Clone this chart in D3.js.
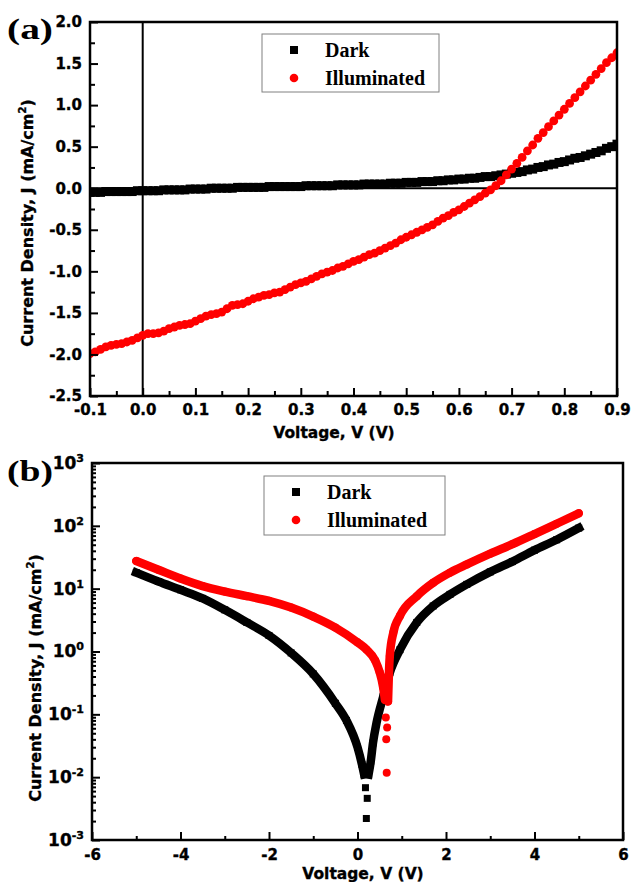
<!DOCTYPE html>
<html>
<head>
<meta charset="utf-8">
<script src="https://cdn.jsdelivr.net/npm/d3@7"></script>
<style>
  body { margin: 0; background: #fff; }
  svg { display: block; }
</style>
</head>
<body>
<svg id="chart" width="632" height="882"></svg>
<script>
// ---------- data, panel (a): linear J-V, sweep -0.1 .. 0.9 V, 0.01 V step ----------
var voltA = d3.range(101).map(function(i) { return Math.round((-0.1 + i * 0.01) * 100) / 100; });

var darkA = [
  -0.05,-0.05,-0.05,-0.04,-0.04,-0.04,-0.04,-0.04,-0.04,-0.03,
  -0.03,-0.03,-0.03,-0.03,-0.02,-0.02,-0.02,-0.02,-0.02,-0.01,
  -0.01,-0.01,-0.01,0.00,0.00,0.00,0.00,0.00,0.01,0.01,
  0.01,0.01,0.01,0.01,0.02,0.02,0.02,0.02,0.02,0.02,
  0.02,0.03,0.03,0.03,0.03,0.03,0.03,0.04,0.04,0.04,
  0.04,0.04,0.05,0.05,0.05,0.05,0.05,0.06,0.06,0.06,
  0.07,0.07,0.07,0.08,0.08,0.08,0.09,0.09,0.10,0.10,
  0.11,0.11,0.12,0.12,0.13,0.14,0.14,0.15,0.16,0.17,
  0.18,0.19,0.20,0.22,0.23,0.25,0.26,0.28,0.29,0.31,
  0.32,0.34,0.36,0.37,0.39,0.41,0.43,0.45,0.48,0.50,
  0.53
];

var illumA = [
  -1.99,-1.97,-1.94,-1.91,-1.89,-1.88,-1.87,-1.85,-1.83,-1.80,
  -1.77,-1.75,-1.75,-1.74,-1.72,-1.69,-1.67,-1.65,-1.64,-1.63,
  -1.60,-1.57,-1.54,-1.52,-1.51,-1.49,-1.45,-1.41,-1.40,-1.39,
  -1.36,-1.33,-1.31,-1.29,-1.28,-1.26,-1.25,-1.22,-1.19,-1.16,
  -1.14,-1.12,-1.09,-1.06,-1.03,-1.01,-0.99,-0.96,-0.94,-0.91,
  -0.88,-0.86,-0.83,-0.80,-0.78,-0.75,-0.72,-0.69,-0.66,-0.62,
  -0.59,-0.56,-0.53,-0.50,-0.47,-0.44,-0.40,-0.36,-0.33,-0.29,
  -0.26,-0.22,-0.18,-0.14,-0.10,-0.06,-0.02,0.03,0.09,0.16,
  0.23,0.30,0.37,0.45,0.52,0.60,0.67,0.74,0.81,0.88,
  0.95,1.02,1.09,1.16,1.23,1.30,1.37,1.44,1.51,1.57,
  1.63
];

var ticksAX = [-0.1, 0.0, 0.1, 0.2, 0.3, 0.4, 0.5, 0.6, 0.7, 0.8, 0.9];
var minorAX = [-0.05, 0.05, 0.15, 0.25, 0.35, 0.45, 0.55, 0.65, 0.75, 0.85];
var ticksAY = [-2.5, -2.0, -1.5, -1.0, -0.5, 0.0, 0.5, 1.0, 1.5, 2.0];
var minorAY = [-2.25, -1.75, -1.25, -0.75, -0.25, 0.25, 0.75, 1.25, 1.75];

// ---------- data, panel (b): semilog |J|-V ----------
var darkBV = [-5.0,-4.5,-4.0,-3.5,-3.0,-2.5,-2.0,-1.5,-1.0,-0.5,-0.25,0.0,0.1,0.15,0.18,0.2,0.22,0.25,0.3,0.35,0.43,0.58,0.73,0.96,1.34,1.71,2.09,2.47,3.0,3.5,4.0,4.5,5.0];
var darkBJ = [18,13,9.6,7.0,4.6,2.9,1.8,0.95,0.44,0.15,0.08,0.03,0.016,0.011,0.0068,0.0022,0.0046,0.011,0.018,0.035,0.073,0.19,0.46,1.07,2.9,5.3,8.1,11.7,18.5,27,41,60,92];

var illumBV = [-5.0,-4.5,-4.0,-3.5,-3.0,-2.5,-2.0,-1.5,-1.0,-0.5,0.0,0.2,0.4,0.5,0.58,0.62,0.64,0.65,0.66,0.67,0.69,0.71,0.73,0.81,0.96,1.34,1.71,2.09,2.47,3.0,3.5,4.0,4.5,5.0];
var illumBJ = [27.5,20,14.5,11,9.0,7.6,6.4,5.0,3.6,2.4,1.4,1.08,0.72,0.47,0.27,0.17,0.089,0.04,0.0118,0.062,0.16,0.45,0.85,2.0,3.7,7.6,12.4,18,24.3,36,51,74,108,158];

var ticksBX = [-6, -4, -2, 0, 2, 4, 6];
var minorBX = [-5, -3, -1, 1, 3, 5];
var decadesB = [1e-3, 1e-2, 1e-1, 1e0, 1e1, 1e2, 1e3];

var seriesNames = ["Dark", "Illuminated"];

// ---------- drawing ----------
var svg = d3.select("#chart");
var serif = "'Liberation Serif','Times New Roman',serif";
var sans = "'DejaVu Sans',Verdana,sans-serif";
var red = "#ff0000";

var defs = svg.append("defs");

// bold sans text in the source is quite heavy, a thin stroke thickens it
function heavy(sel) {
  return sel.attr("stroke", "#000").attr("stroke-width", 0.35);
}

function styleAxis(g, size) {
  g.attr("font-family", sans).attr("font-size", size).attr("font-weight", "bold");
  g.select(".domain").remove();
  g.selectAll(".tick line").attr("stroke", "#000").attr("stroke-width", 2);
  g.selectAll(".tick text").attr("fill", "#000").call(heavy);
}

function yTitle(x, y) {
  var t = svg.append("text")
    .attr("transform", "translate(" + x + "," + y + ") rotate(-90)")
    .attr("text-anchor", "middle")
    .attr("font-family", sans).attr("font-size", 16).attr("font-weight", "bold")
    .call(heavy);
  t.append("tspan").text("Current Density, J (mA/cm");
  t.append("tspan").attr("dy", -7).attr("font-size", 10).text("2");
  t.append("tspan").attr("dy", 7).text(")");
}

function xTitle(x, y) {
  svg.append("text").attr("x", x).attr("y", y)
    .attr("text-anchor", "middle")
    .attr("font-family", sans).attr("font-size", 15.5).attr("font-weight", "bold")
    .call(heavy)
    .text("Voltage, V (V)");
}

function legend(x, y, w, h) {
  var g = svg.append("g").attr("transform", "translate(" + x + "," + y + ")");
  g.append("rect").attr("width", w).attr("height", h)
    .attr("fill", "#fff").attr("stroke", "#808080").attr("stroke-width", 1);
  g.append("rect").attr("x", 28).attr("y", 12).attr("width", 8).attr("height", 8).attr("fill", "#000");
  g.append("circle").attr("cx", 32).attr("cy", 44).attr("r", 4.3).attr("fill", red);
  g.selectAll("text.lab").data(seriesNames).join("text").attr("class", "lab")
    .attr("x", 63).attr("y", function(d, i) { return 23 + i * 28; })
    .attr("font-family", serif).attr("font-size", 20).attr("font-weight", "bold")
    .text(function(d) { return d; });
}

function panelLabel(txt, x, y) {
  svg.append("text").attr("x", x).attr("y", y)
    .attr("font-family", serif).attr("font-size", 29).attr("font-weight", "bold")
    .attr("textLength", 46).attr("lengthAdjust", "spacingAndGlyphs")
    .text(txt);
}

// ===== panel (a) =====
var A = { left: 90, top: 22, right: 617, bottom: 396 };
var xA = d3.scaleLinear().domain([-0.1, 0.9]).range([A.left, A.right]);
var yA = d3.scaleLinear().domain([-2.5, 2.0]).range([A.bottom, A.top]);

defs.append("clipPath").attr("id", "clipA").append("rect")
  .attr("x", A.left).attr("y", A.top).attr("width", A.right - A.left).attr("height", A.bottom - A.top);

// zero lines
svg.append("line").attr("x1", xA(0)).attr("x2", xA(0)).attr("y1", A.top).attr("y2", A.bottom)
  .attr("stroke", "#000").attr("stroke-width", 2);
svg.append("line").attr("x1", A.left).attr("x2", A.right).attr("y1", yA(0)).attr("y2", yA(0))
  .attr("stroke", "#000").attr("stroke-width", 2);

var ptsDarkA = voltA.map(function(v, i) { return [v, darkA[i]]; });
var ptsIllumA = voltA.map(function(v, i) { return [v, illumA[i]]; });

var dataA = svg.append("g").attr("clip-path", "url(#clipA)");
dataA.append("g").selectAll("rect").data(ptsDarkA).join("rect")
  .attr("x", function(d) { return xA(d[0]) - 4.5; })
  .attr("y", function(d) { return yA(d[1]) - 4.5; })
  .attr("width", 9).attr("height", 9).attr("fill", "#000");
dataA.append("g").selectAll("circle").data(ptsIllumA).join("circle")
  .attr("cx", function(d) { return xA(d[0]); })
  .attr("cy", function(d) { return yA(d[1]); })
  .attr("r", 4.4).attr("fill", red);

// axes (ticks point inward)
svg.append("g").attr("transform", "translate(0," + A.bottom + ")")
  .call(d3.axisBottom(xA).tickValues(minorAX).tickSize(-5).tickFormat(""))
  .call(styleAxis, 15);
svg.append("g").attr("transform", "translate(0," + A.bottom + ")")
  .call(d3.axisBottom(xA).tickValues(ticksAX).tickSize(-8).tickPadding(8)
    .tickFormat(function(d) { return d.toFixed(1); }))
  .call(styleAxis, 15);
svg.append("g").attr("transform", "translate(" + A.left + ",0)")
  .call(d3.axisLeft(yA).tickValues(minorAY).tickSize(-5).tickFormat(""))
  .call(styleAxis, 15);
svg.append("g").attr("transform", "translate(" + A.left + ",0)")
  .call(d3.axisLeft(yA).tickValues(ticksAY).tickSize(-8).tickPadding(8)
    .tickFormat(function(d) { return d.toFixed(1); }))
  .call(styleAxis, 15);

svg.append("rect").attr("x", A.left).attr("y", A.top)
  .attr("width", A.right - A.left).attr("height", A.bottom - A.top)
  .attr("fill", "none").attr("stroke", "#000").attr("stroke-width", 2.5);

legend(262, 34, 177, 58);
yTitle(33, 223);
xTitle(334, 438);
panelLabel("(a)", 7, 38.5);

// ===== panel (b) =====
var B = { left: 92, top: 463, right: 623, bottom: 840 };
var xB = d3.scaleLinear().domain([-6, 6]).range([B.left, B.right]);
var yB = d3.scaleLog().domain([1e-3, 1e3]).range([B.bottom, B.top]);

defs.append("clipPath").attr("id", "clipB").append("rect")
  .attr("x", B.left).attr("y", B.top).attr("width", B.right - B.left).attr("height", B.bottom - B.top);

var dataB = svg.append("g").attr("clip-path", "url(#clipB)");

var seriesB = [
  { v: darkBV, j: darkBJ, color: "#000", cap: "square", floor: 0.009, shape: "square" },
  { v: illumBV, j: illumBJ, color: red, cap: "round", floor: 0.1, shape: "circle" }
];

seriesB.forEach(function(s) {
  var pts = s.v.map(function(v, i) { return [v, s.j[i]]; });
  // dense markers merge into a thick band; points near the zero crossing stay apart
  var band = d3.line()
    .defined(function(d) { return d[1] >= s.floor; })
    .x(function(d) { return xB(d[0]); })
    .y(function(d) { return yB(d[1]); })
    .curve(d3.curveMonotoneX);
  dataB.append("path").datum(pts).attr("d", band)
    .attr("fill", "none").attr("stroke", s.color).attr("stroke-width", 8.5)
    .attr("stroke-linecap", s.cap).attr("stroke-linejoin", "round");
  if (s.shape === "square") {
    dataB.append("g").selectAll("rect").data(pts).join("rect")
      .attr("x", function(d) { return xB(d[0]) - 3.5; })
      .attr("y", function(d) { return yB(d[1]) - 3.5; })
      .attr("width", 7).attr("height", 7).attr("fill", s.color);
  } else {
    dataB.append("g").selectAll("circle").data(pts).join("circle")
      .attr("cx", function(d) { return xB(d[0]); })
      .attr("cy", function(d) { return yB(d[1]); })
      .attr("r", 4).attr("fill", s.color);
  }
});

svg.append("g").attr("transform", "translate(0," + B.bottom + ")")
  .call(d3.axisBottom(xB).tickValues(minorBX).tickSize(-4).tickFormat(""))
  .call(styleAxis, 15);
svg.append("g").attr("transform", "translate(0," + B.bottom + ")")
  .call(d3.axisBottom(xB).tickValues(ticksBX).tickSize(-8).tickPadding(9)
    .tickFormat(function(d) { return String(d); }))
  .call(styleAxis, 15);

var minorLog = yB.ticks().filter(function(d) { return decadesB.indexOf(d) < 0; });
svg.append("g").attr("transform", "translate(" + B.left + ",0)")
  .call(d3.axisLeft(yB).tickValues(minorLog).tickSize(-4).tickFormat(""))
  .call(styleAxis, 17);
var yAxB = svg.append("g").attr("transform", "translate(" + B.left + ",0)")
  .call(d3.axisLeft(yB).tickValues(decadesB).tickSize(-8).tickPadding(8).tickFormat(function() { return ""; }))
  .call(styleAxis, 17);
yAxB.selectAll(".tick text").each(function(d) {
  var t = d3.select(this);
  t.append("tspan").text("10");
  t.append("tspan").attr("dy", -7).attr("font-size", 11).text(String(Math.round(Math.log10(d))));
});

svg.append("rect").attr("x", B.left).attr("y", B.top)
  .attr("width", B.right - B.left).attr("height", B.bottom - B.top)
  .attr("fill", "none").attr("stroke", "#000").attr("stroke-width", 2.5);

legend(264, 476, 181, 59);
yTitle(41, 678);
xTitle(363, 879);
panelLabel("(b)", 7, 481);
</script>
</body>
</html>
